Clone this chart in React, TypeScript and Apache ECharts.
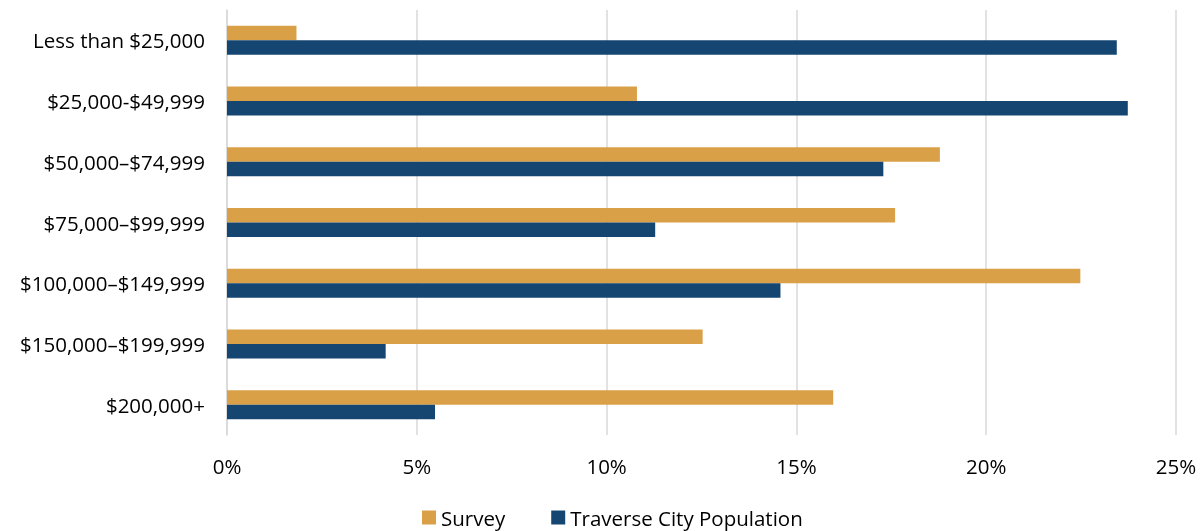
import React, { useEffect, useRef } from "react";
import * as echarts from "echarts";

const categories = [
  "Less than $25,000",
  "$25,000-$49,999",
  "$50,000–$74,999",
  "$75,000–$99,999",
  "$100,000–$149,999",
  "$150,000–$199,999",
  "$200,000+",
];
const surveyValues = [1.83, 10.8, 18.78, 17.6, 22.48, 12.53, 15.97];
const populationValues = [23.44, 23.73, 17.29, 11.28, 14.58, 4.18, 5.48];
const xTicks = [0, 5, 10, 15, 20, 25];

const FONT = "'Open Sans', 'Liberation Sans', sans-serif";
const FS = 20.5;

export default function App() {
  const ref = useRef<HTMLDivElement>(null);
  useEffect(() => {
    if (!ref.current) return;
    const chart = echarts.init(ref.current, null, { renderer: "svg" });
    chart.setOption({
      animation: false,
      textStyle: { fontFamily: FONT },
      grid: { left: 227, right: 25, top: 10, bottom: 96, containLabel: false },
      legend: {
        top: 502,
        left: 417,
        itemWidth: 14,
        itemHeight: 14,
        itemGap: 46,
        icon: "rect",
        textStyle: { fontSize: FS, color: "#000", fontFamily: FONT },
        data: ["Survey", "Traverse City Population"],
      },
      xAxis: {
        type: "value",
        min: xTicks[0],
        max: xTicks[xTicks.length - 1],
        interval: 5,
        axisLine: { show: false },
        axisTick: { show: false },
        axisLabel: {
          formatter: "{value}%",
          fontSize: FS,
          color: "#000",
          margin: 20,
          fontFamily: FONT,
        },
        splitLine: { show: true, lineStyle: { color: "#D9D9D9", width: 1.5 } },
      },
      yAxis: {
        type: "category",
        data: categories,
        inverse: true,
        axisLine: { show: true, lineStyle: { color: "#D9D9D9", width: 1.5 } },
        axisTick: { show: false },
        axisLabel: { fontSize: FS, color: "#000", margin: 22, fontFamily: FONT },
      },
      series: [
        {
          name: "Survey",
          type: "bar",
          data: surveyValues,
          barWidth: 14.5,
          barGap: "0%",
          itemStyle: { color: "#DAA047" },
        },
        {
          name: "Traverse City Population",
          type: "bar",
          data: populationValues,
          barWidth: 14.5,
          barGap: "0%",
          itemStyle: { color: "#154672" },
        },
      ],
    });
    return () => chart.dispose();
  }, []);
  return (
    <div
      ref={ref}
      style={{ position: "fixed", left: 0, top: 0, width: 1201, height: 531 }}
    />
  );
}
